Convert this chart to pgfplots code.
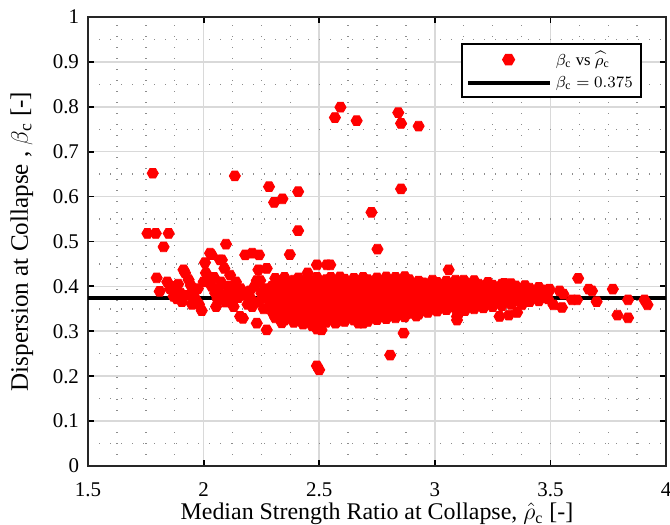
\documentclass[border=0pt]{standalone}
\usepackage{fontspec}
\setmainfont{Liberation Serif}
\usepackage{pgfplots}
\usepackage{pgfplotstable}
\pgfplotsset{compat=1.18}
\pgfdeclareplotmark{hexa}{%
  \pgfpathmoveto{\pgfqpointpolar{0}{\pgfplotmarksize}}%
  \pgfpathlineto{\pgfqpointpolar{60}{\pgfplotmarksize}}%
  \pgfpathlineto{\pgfqpointpolar{120}{\pgfplotmarksize}}%
  \pgfpathlineto{\pgfqpointpolar{180}{\pgfplotmarksize}}%
  \pgfpathlineto{\pgfqpointpolar{240}{\pgfplotmarksize}}%
  \pgfpathlineto{\pgfqpointpolar{300}{\pgfplotmarksize}}%
  \pgfpathclose
  \pgfusepathqfillstroke}
\pgfplotsset{
  hexlegend/.style={legend image code/.code={%
    \draw[##1] plot[mark=hexa] coordinates {(0.72cm,0cm)};
    \path (0cm,0cm) (1.45cm,0cm);}},
  linelegend/.style={legend image code/.code={%
    \draw[##1] (0cm,0cm) -- (1.45cm,0cm);}},
}
\pgfplotstableread{
x y
1.757 0.518
1.793 0.518
1.849 0.518
1.780 0.652
1.827 0.488
1.797 0.419
1.843 0.410
1.810 0.389
1.855 0.395
1.870 0.378
1.885 0.372
1.906 0.366
1.913 0.437
1.920 0.430
1.935 0.415
1.945 0.402
1.958 0.385
1.965 0.372
1.975 0.395
1.980 0.360
1.992 0.346
2.000 0.410
1.900 0.385
1.890 0.405
1.930 0.380
1.950 0.360
1.870 0.400
2.006 0.453
2.028 0.474
2.034 0.471
2.071 0.459
2.079 0.459
2.097 0.494
2.135 0.646
2.010 0.430
2.020 0.415
2.035 0.400
2.045 0.420
2.050 0.385
2.054 0.355
2.060 0.372
2.065 0.395
2.075 0.410
2.085 0.380
2.090 0.440
2.095 0.365
2.105 0.400
2.110 0.385
2.115 0.425
2.120 0.370
2.130 0.355
2.135 0.390
2.140 0.410
2.150 0.375
2.158 0.333
2.160 0.395
2.170 0.329
2.180 0.470
2.180 0.380
2.210 0.474
2.240 0.470
2.190 0.360
2.200 0.390
2.205 0.372
2.210 0.355
2.220 0.400
2.230 0.413
2.230 0.318
2.237 0.437
2.240 0.365
2.245 0.413
2.250 0.385
2.255 0.375
2.260 0.350
2.265 0.395
2.273 0.440
2.273 0.303
2.283 0.622
2.280 0.370
2.285 0.385
2.290 0.355
2.295 0.400
2.305 0.587
2.317 0.413
2.341 0.595
2.338 0.319
2.409 0.611
2.373 0.471
2.409 0.524
2.300 0.340
2.592 0.799
2.568 0.776
2.662 0.769
2.842 0.787
2.854 0.763
2.930 0.757
2.854 0.617
2.726 0.565
2.752 0.483
2.490 0.448
2.533 0.448
2.548 0.448
2.490 0.223
2.500 0.214
2.807 0.247
2.865 0.296
2.510 0.303
2.576 0.321
2.690 0.318
2.770 0.333
2.920 0.334
3.060 0.437
3.096 0.333
3.096 0.325
3.125 0.414
3.167 0.392
3.197 0.359
3.240 0.403
3.280 0.333
3.300 0.407
3.320 0.336
3.334 0.396
3.356 0.342
3.377 0.359
3.298 0.403
3.413 0.370
3.430 0.388
3.457 0.388
3.470 0.377
3.496 0.394
3.513 0.359
3.540 0.390
3.550 0.353
3.556 0.383
3.594 0.370
3.615 0.370
3.620 0.418
3.666 0.394
3.680 0.390
3.700 0.366
3.770 0.394
3.790 0.336
3.836 0.330
3.836 0.370
3.907 0.370
3.920 0.359
2.31 0.330
2.31 0.345
2.31 0.362
2.31 0.378
2.31 0.392
2.31 0.405
2.31 0.418
2.33 0.336
2.33 0.350
2.33 0.368
2.33 0.383
2.33 0.398
2.33 0.411
2.35 0.325
2.35 0.342
2.35 0.356
2.35 0.372
2.35 0.387
2.35 0.402
2.35 0.420
2.37 0.333
2.37 0.348
2.37 0.364
2.37 0.377
2.37 0.391
2.37 0.408
2.39 0.320
2.39 0.339
2.39 0.353
2.39 0.369
2.39 0.384
2.39 0.397
2.39 0.414
2.41 0.328
2.41 0.344
2.41 0.360
2.41 0.375
2.41 0.389
2.41 0.403
2.41 0.419
2.43 0.316
2.43 0.335
2.43 0.351
2.43 0.366
2.43 0.380
2.43 0.395
2.43 0.410
2.45 0.322
2.45 0.340
2.45 0.357
2.45 0.372
2.45 0.386
2.45 0.400
2.45 0.416
2.45 0.430
2.47 0.312
2.47 0.330
2.47 0.347
2.47 0.363
2.47 0.378
2.47 0.392
2.47 0.407
2.49 0.305
2.49 0.325
2.49 0.342
2.49 0.358
2.49 0.373
2.49 0.388
2.49 0.403
2.49 0.420
2.51 0.315
2.51 0.333
2.51 0.350
2.51 0.366
2.51 0.381
2.51 0.396
2.51 0.411
2.53 0.320
2.53 0.338
2.53 0.354
2.53 0.370
2.53 0.385
2.53 0.399
2.53 0.415
2.55 0.326
2.55 0.343
2.55 0.359
2.55 0.374
2.55 0.389
2.55 0.404
2.55 0.420
2.57 0.318
2.57 0.335
2.57 0.352
2.57 0.367
2.57 0.382
2.57 0.397
2.57 0.412
2.59 0.328
2.59 0.345
2.59 0.361
2.59 0.376
2.59 0.391
2.59 0.406
2.59 0.421
2.61 0.322
2.61 0.339
2.61 0.355
2.61 0.371
2.61 0.386
2.61 0.401
2.61 0.416
2.63 0.330
2.63 0.347
2.63 0.363
2.63 0.378
2.63 0.393
2.63 0.408
2.65 0.325
2.65 0.341
2.65 0.357
2.65 0.372
2.65 0.387
2.65 0.402
2.65 0.418
2.67 0.318
2.67 0.336
2.67 0.352
2.67 0.368
2.67 0.383
2.67 0.398
2.67 0.413
2.69 0.328
2.69 0.344
2.69 0.360
2.69 0.375
2.69 0.390
2.69 0.405
2.69 0.420
2.71 0.322
2.71 0.339
2.71 0.355
2.71 0.370
2.71 0.385
2.71 0.400
2.71 0.415
2.73 0.331
2.73 0.347
2.73 0.362
2.73 0.377
2.73 0.392
2.73 0.407
2.75 0.326
2.75 0.342
2.75 0.358
2.75 0.373
2.75 0.388
2.75 0.403
2.75 0.419
2.77 0.333
2.77 0.349
2.77 0.364
2.77 0.379
2.77 0.394
2.77 0.410
2.79 0.328
2.79 0.344
2.79 0.360
2.79 0.375
2.79 0.390
2.79 0.405
2.79 0.421
2.81 0.335
2.81 0.351
2.81 0.366
2.81 0.381
2.81 0.396
2.81 0.412
2.83 0.330
2.83 0.346
2.83 0.361
2.83 0.376
2.83 0.391
2.83 0.406
2.83 0.420
2.85 0.337
2.85 0.353
2.85 0.368
2.85 0.383
2.85 0.398
2.85 0.413
2.87 0.332
2.87 0.348
2.87 0.363
2.87 0.378
2.87 0.393
2.87 0.408
2.87 0.422
2.89 0.340
2.89 0.355
2.89 0.370
2.89 0.385
2.89 0.400
2.89 0.415
2.91 0.345
2.91 0.360
2.91 0.375
2.91 0.390
2.91 0.405
2.93 0.338
2.93 0.352
2.93 0.367
2.93 0.382
2.93 0.397
2.93 0.412
2.95 0.348
2.95 0.363
2.95 0.378
2.95 0.393
2.95 0.408
2.97 0.342
2.97 0.358
2.97 0.374
2.97 0.390
2.97 0.405
2.99 0.352
2.99 0.368
2.99 0.383
2.99 0.398
2.99 0.414
3.01 0.345
3.01 0.362
3.01 0.378
3.01 0.394
3.01 0.409
3.03 0.355
3.03 0.371
3.03 0.387
3.03 0.402
3.05 0.348
3.05 0.365
3.05 0.381
3.05 0.397
3.05 0.412
3.07 0.358
3.07 0.374
3.07 0.390
3.07 0.406
3.09 0.350
3.09 0.367
3.09 0.383
3.09 0.399
3.09 0.414
3.11 0.360
3.11 0.376
3.11 0.392
3.11 0.407
3.13 0.346
3.13 0.363
3.13 0.379
3.13 0.395
3.13 0.410
3.15 0.355
3.15 0.371
3.15 0.387
3.15 0.403
3.17 0.350
3.17 0.366
3.17 0.382
3.17 0.398
3.17 0.413
3.19 0.358
3.19 0.374
3.19 0.390
3.19 0.405
3.21 0.352
3.21 0.368
3.21 0.384
3.21 0.400
3.23 0.362
3.23 0.378
3.23 0.394
3.23 0.409
3.25 0.355
3.25 0.371
3.25 0.387
3.25 0.403
3.27 0.365
3.27 0.381
3.27 0.397
3.29 0.357
3.29 0.373
3.29 0.389
3.29 0.405
3.31 0.368
3.31 0.384
3.31 0.400
3.33 0.360
3.33 0.376
3.33 0.392
3.33 0.406
3.35 0.370
3.35 0.386
3.35 0.401
3.37 0.364
3.37 0.380
3.37 0.395
3.39 0.372
3.39 0.388
3.39 0.402
3.41 0.366
3.41 0.382
3.41 0.396
3.43 0.375
3.43 0.390
3.45 0.368
3.45 0.384
3.45 0.398
3.47 0.378
3.47 0.392
3.49 0.372
3.49 0.386
}\scatterdata
\begin{document}
\begin{tikzpicture}
\begin{axis}[
  scale only axis,
  width=289bp, height=224.5bp,
  xmin=1.5, xmax=4, ymin=0, ymax=1,
  xtick={1.5,2,2.5,3,3.5,4},
  ytick={0,0.1,0.2,0.3,0.4,0.5,0.6,0.7,0.8,0.9,1},
  yticklabels={0,0.1,0.2,0.3,0.4,0.5,0.6,0.7,0.8,0.9,1},
  minor x tick num=3, minor y tick num=1,
  grid=both,
  major grid style={draw=black!15, line width=0.8bp},
  minor grid style={draw=black!45, line width=0.7bp, dash pattern=on 0.7bp off 4.8bp},
  tick align=inside,
  major tick length=3bp, minor tick length=0pt,
  tick style={line width=0.9bp, black},
  axis line style={line width=1.1bp, black!85},
  /pgf/number format/assume math mode=true,
  ticklabel style={font=\fontsize{10.5}{12}\selectfont},
  xticklabel style={yshift=-5bp},
  yticklabel style={xshift=-1bp},
  xlabel={Median Strength Ratio at Collapse, $\hat{\rho}_{\mathrm{c}}$ [-]},
  ylabel={Dispersion at Collapse , $\beta_{\mathrm{c}}$ [-]},
  xlabel style={font=\fontsize{12}{14}\selectfont, at={(rel axis cs:0.5,0)}, anchor=north, yshift=-15bp},
  ylabel style={font=\fontsize{12.6}{14}\selectfont, yshift=3bp},
  legend style={at={(rel axis cs:0.958,0.942)}, anchor=north east,
    draw=black, line width=0.9bp, fill=white,
    font=\fontsize{8.4}{9.5}\selectfont, inner xsep=2bp, inner ysep=1.5bp,
    row sep=0bp},
  legend cell align=left,
  clip=true,
]
\addplot[only marks, mark=hexa, mark size=2.8bp, color=red, fill=red, hexlegend]
  table[x=x, y=y] {\scatterdata};
\addlegendentry{$\beta_{\mathrm{c}}$ vs $\widehat{\rho}_{\mathrm{c}}$}
\addplot[black, line width=2bp, linelegend]
  coordinates {(1.5,0.375) (4,0.375)};
\addlegendentry{$\beta_{\mathrm{c}} = 0.375$}
\coordinate (sw) at (rel axis cs:0,0);
\coordinate (ne) at (rel axis cs:1,1);
\end{axis}
\pgfresetboundingbox
\path[use as bounding box] ([xshift=-44bp,yshift=-29.5bp]sw) rectangle ([xshift=2bp,yshift=8.5bp]ne);
\end{tikzpicture}
\end{document}
